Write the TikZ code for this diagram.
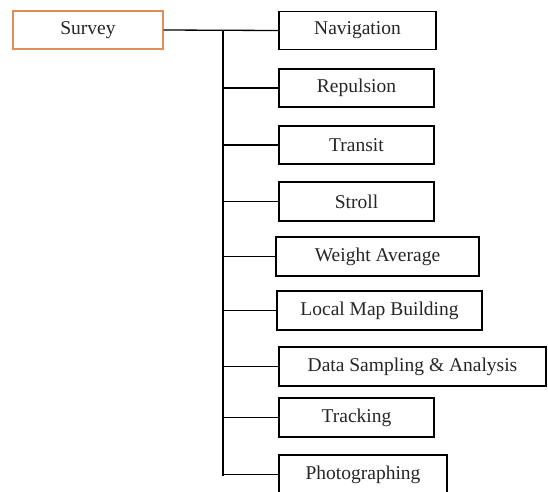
\documentclass[tikz,border=0pt]{standalone}
\usepackage{fontspec}
\setmainfont{Liberation Serif}
\definecolor{surveyedge}{RGB}{226,142,86}
\begin{document}
\begin{tikzpicture}[x=1pt,y=-1pt,
  box/.style={draw=black,line width=1.4pt,rectangle,minimum height=38pt,inner sep=0pt,
    font=\fontsize{19.5}{21}\selectfont,text=black!85},
  link/.style={draw=black,line width=1.3pt}]
\useasboundingbox (0,0) rectangle (548,491);
\clip (0,0) rectangle (548,491);
\fill[white] (0,0) rectangle (548,491);
% root
\node[box,draw=surveyedge,line width=1.1pt,minimum width=150pt] (survey) at (88,30) {Survey};
% children
\node[box,minimum width=157pt] (nav) at (357.5,30.5) {Navigation};
\node[box,minimum width=155pt] (rep) at (356.5,88) {Repulsion};
\node[box,minimum width=155pt] (tra) at (356.5,145) {Transit};
\node[box,minimum width=155pt,minimum height=39pt] (str) at (356.5,201.5) {Stroll};
\node[box,minimum width=203pt,minimum height=39pt] (wav) at (377.5,256.5) {Weight Average};
\node[box,minimum width=205pt,minimum height=39pt] (lmb) at (379.5,310.5) {Local Map Building};
\node[box,minimum width=267pt,minimum height=39pt] (dsa) at (412.5,366.5) {Data Sampling \& Analysis};
\node[box,minimum width=155pt,minimum height=39pt] (trk) at (356.5,417.5) {Tracking};
\node[box,minimum width=168pt,minimum height=39pt] (pho) at (363,474.5) {Photographing};
% trunk
\coordinate (ttop) at (223,30);
\coordinate (tbot) at (223,476);
\draw[link] (survey.east) -- (nav.west);
\draw[link] (ttop) -- (tbot);
\foreach \n in {rep,tra,str,wav,lmb,dsa,trk,pho}
  \draw[link] (ttop |- \n.west) -- (\n.west);
\end{tikzpicture}
\end{document}
